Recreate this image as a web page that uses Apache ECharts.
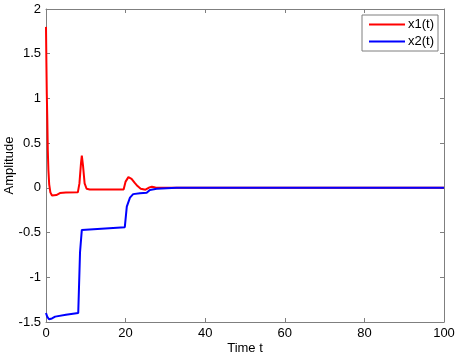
<!DOCTYPE html>
<html>
<head>
<meta charset="utf-8">
<script src="https://cdn.jsdelivr.net/npm/echarts@6/dist/echarts.min.js"></script>
<style>
  html, body { margin: 0; padding: 0; background: #fff; }
  #chart { width: 456px; height: 356px; }
</style>
</head>
<body>
<div id="chart"></div>
<script>
// time / value pairs
const x1Points = [
  [0, 1.8], [0.1, 1.4], [0.2, 1.05], [0.33, 0.76], [0.45, 0.42], [0.6, 0.2],
  [0.8, 0.04], [1.1, -0.05], [1.5, -0.085], [2.0, -0.09], [2.6, -0.08],
  [3.5, -0.058], [5, -0.052], [8.0, -0.05], [8.4, 0.05], [8.8, 0.28],
  [9.0, 0.36], [9.3, 0.25], [9.7, 0.05], [10.2, -0.01], [11, -0.018],
  [19.5, -0.018], [20.0, 0.07], [20.7, 0.12], [21.5, 0.10], [22.3, 0.055],
  [23.0, 0.02], [23.8, -0.01], [25.0, -0.02], [26.0, 0.005], [26.6, 0.013],
  [27.5, 0.004], [29, 0], [100, 0]
];

const x2Points = [
  [0, -1.40], [0.3, -1.44], [0.75, -1.47], [1.5, -1.46], [2.3, -1.44],
  [5, -1.42], [8.1, -1.40], [8.55, -0.72], [9.0, -0.47], [9.5, -0.46],
  [19.8, -0.44], [20.3, -0.21], [21.1, -0.11], [21.9, -0.07], [23.6, -0.06],
  [25.3, -0.055], [26.1, -0.023], [27.8, -0.01], [32.8, 0], [100, 0]
];

const seriesNames = ["x1(t)", "x2(t)"];
const seriesColors = ["#ff0000", "#0000ff"];

const xRange = { min: 0, max: 100, interval: 20 };
const yRange = { min: -1.5, max: 2, interval: 0.5 };

const FONT = "Liberation Sans, Arial, sans-serif";
const AXIS_GRAY = "#7f7f7f";

const chart = echarts.init(document.getElementById("chart"), null, { renderer: "canvas" });

function mirrorAxis(position, range) {
  return {
    type: "value",
    position: position,
    ...range,
    axisLine: { show: true, onZero: false, lineStyle: { color: AXIS_GRAY, width: 1 } },
    axisTick: { show: true, inside: true, length: 4, lineStyle: { color: AXIS_GRAY } },
    axisLabel: { show: false },
    splitLine: { show: false },
  };
}

const option = {
  animation: false,
  backgroundColor: "#fff",
  grid: { left: 46, top: 9, right: 12, bottom: 34, containLabel: false, outerBoundsMode: "none" },
  legend: {
    data: seriesNames,
    orient: "vertical",
    right: 18,
    top: 15,
    icon: "rect",
    itemWidth: 36,
    itemHeight: 2,
    itemGap: 4,
    padding: [3, 4, 3, 7],
    borderColor: "#7f7f7f",
    borderWidth: 1,
    backgroundColor: "#fff",
    textStyle: { fontFamily: FONT, fontSize: 13, color: "#000", padding: [0, 0, 0, -2] },
  },
  xAxis: [
    {
      type: "value",
      position: "bottom",
      ...xRange,
      name: "Time t",
      nameLocation: "middle",
      nameGap: 20,
      nameMoveOverlap: false,
      nameTextStyle: { fontFamily: FONT, fontSize: 13, color: "#000" },
      axisLine: { show: true, onZero: false, lineStyle: { color: AXIS_GRAY, width: 1 } },
      axisTick: { show: true, inside: true, length: 4, lineStyle: { color: AXIS_GRAY } },
      axisLabel: { fontFamily: FONT, fontSize: 13, color: "#000", margin: 5 },
      splitLine: { show: false },
    },
    mirrorAxis("top", xRange),
  ],
  yAxis: [
    {
      type: "value",
      position: "left",
      ...yRange,
      name: "Amplitude",
      nameLocation: "middle",
      nameGap: 30,
      nameMoveOverlap: false,
      nameTextStyle: { fontFamily: FONT, fontSize: 13, color: "#000" },
      axisLine: { show: true, onZero: false, lineStyle: { color: AXIS_GRAY, width: 1 } },
      axisTick: { show: true, inside: true, length: 4, lineStyle: { color: AXIS_GRAY } },
      axisLabel: { fontFamily: FONT, fontSize: 13, color: "#000", margin: 5 },
      splitLine: { show: false },
    },
    mirrorAxis("right", yRange),
  ],
  series: [
    {
      name: seriesNames[0],
      type: "line",
      data: x1Points,
      showSymbol: false,
      smooth: false,
      lineStyle: { color: seriesColors[0], width: 2 },
      itemStyle: { color: seriesColors[0] },
      z: 2,
    },
    {
      name: seriesNames[1],
      type: "line",
      data: x2Points,
      showSymbol: false,
      smooth: false,
      lineStyle: { color: seriesColors[1], width: 2 },
      itemStyle: { color: seriesColors[1] },
      z: 3,
    },
  ],
};

chart.setOption(option);
</script>
</body>
</html>
